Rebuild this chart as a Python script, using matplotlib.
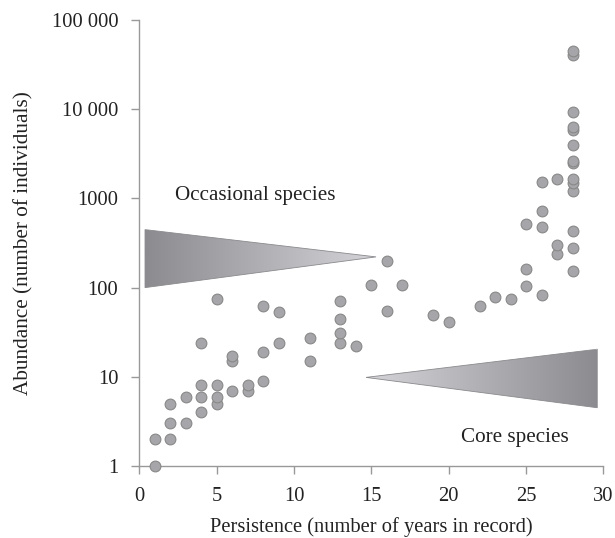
import numpy as np
import matplotlib.pyplot as plt
from matplotlib.patches import Polygon
from matplotlib.colors import LinearSegmentedColormap

plt.rcParams['font.family'] = ['Liberation Serif', 'DejaVu Serif']

# persistence (years) and abundance
years = [1, 1,
         2, 2, 2,
         3, 3,
         4, 4, 4, 4,
         5, 5, 5, 5,
         6, 6, 6,
         7, 7,
         8, 8, 8,
         9, 9,
         11, 11,
         13, 13, 13, 13,
         14, 15, 16, 16, 17, 19, 20, 22, 23, 24,
         25, 25, 25,
         26, 26, 26, 26,
         27, 27, 27,
         28, 28, 28, 28, 28, 28, 28, 28, 28, 28, 28, 28, 28, 28]
abundance = [1, 2,
             2, 3, 5,
             3, 6,
             4, 6, 8, 24,
             5, 6, 8, 74,
             7, 15, 17,
             7, 8,
             9, 19, 62,
             24, 53,
             15, 27,
             24, 31, 44, 71,
             22, 107, 55, 198, 107, 49, 41, 63, 78, 74,
             105, 162, 510,
             82, 480, 717, 1520,
             237, 304, 1660,
             153, 277, 428, 1200, 1500, 1630, 2500, 2650, 3940, 5800, 6300, 9300, 41000, 45000]

y_ticks = [1, 10, 100, 1000, 10000, 100000]
y_tick_labels = ['1', '10', '100', '1000', '10 000', '100 000']
x_ticks = [0, 5, 10, 15, 20, 25, 30]

# wedge outlines (x, abundance)
occasional_wedge = [(0.37, 447), (15.3, 221), (0.37, 100)]
core_wedge = [(14.65, 9.85), (29.6, 20.4), (29.6, 4.5)]

fig = plt.figure(figsize=(6.15, 5.38), dpi=100)
ax = fig.add_axes([0.2265, 0.1338, 0.7548, 0.829])

ax.scatter(years, abundance, s=60, color='#a6a6aa', edgecolors='#888888',
           linewidths=0.8, zorder=3, clip_on=False)

grey = LinearSegmentedColormap.from_list('wedge', ['#8c8c90', '#d4d4d8'])


def wedge(pts, dark_left):
    xs = [p[0] for p in pts]
    ys = [p[1] for p in pts]
    grad = np.linspace(0, 1, 256).reshape(1, -1)
    if not dark_left:
        grad = grad[:, ::-1]
    im = ax.imshow(grad, cmap=grey, aspect='auto', interpolation='bilinear',
                   extent=[min(xs), max(xs), min(ys), max(ys)], zorder=2)
    poly = Polygon(pts, closed=True, facecolor='none', edgecolor='#8a8a8e',
                   linewidth=0.6, zorder=2)
    ax.add_patch(poly)
    im.set_clip_path(poly)


ax.set_yscale('log')
wedge(occasional_wedge, True)
wedge(core_wedge, False)

ax.set_xlim(0, 30)
ax.set_ylim(1, 100000)
ax.set_xticks(x_ticks)
ax.set_yticks(y_ticks)
ax.set_yticklabels(y_tick_labels)
ax.minorticks_off()

for side in ['top', 'right']:
    ax.spines[side].set_visible(False)
for side in ['left', 'bottom']:
    ax.spines[side].set_color('#999999')
    ax.spines[side].set_linewidth(1.0)
ax.tick_params(direction='out', length=6, width=1.0, color='#999999',
               labelsize=14.8, labelcolor='#222222', pad=9)

ax.text(7.5, 1080, 'Occasional species', fontsize=15.2, color='#222222',
        ha='center', va='center')
ax.text(24.3, 2.1, 'Core species', fontsize=15.2, color='#222222',
        ha='center', va='center')

ax.set_xlabel('Persistence (number of years in record)', fontsize=14.8,
              color='#222222', labelpad=8)
ax.set_ylabel('Abundance (number of individuals)', fontsize=15.3,
              color='#222222', labelpad=13)

fig.savefig('out.png', dpi=100)
